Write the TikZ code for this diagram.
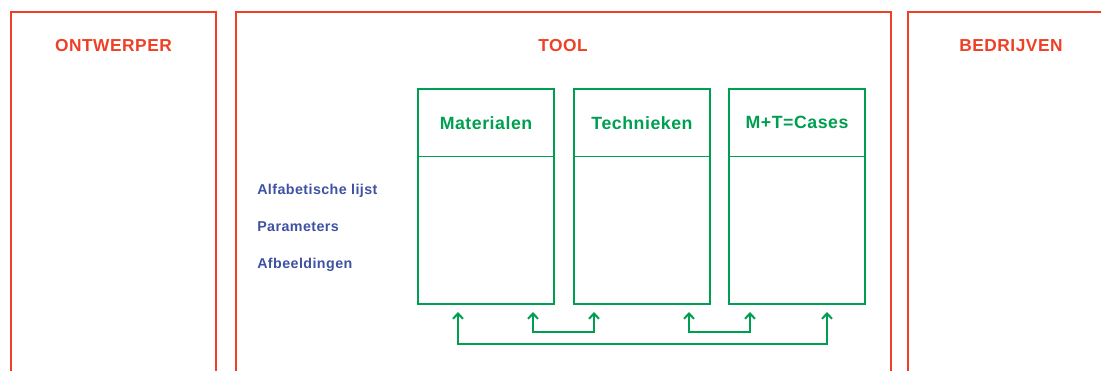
\documentclass[tikz,border=0pt]{standalone}
\usepackage{fontspec}
\setmainfont{Liberation Sans}
\newfontfamily\breedfont[LetterSpace=3]{Liberation Sans}
\usetikzlibrary{arrows.meta,positioning}
\definecolor{rood}{RGB}{238,64,38}
\definecolor{groen}{RGB}{0,158,80}
\definecolor{blauw}{RGB}{62,82,162}

\begin{document}
\begin{tikzpicture}[x=0.75pt,y=0.75pt,yscale=-1,xscale=1,
	paneel/.style={draw=rood,line width=1pt},
	titel/.style={text=rood,font=\breedfont\bfseries\fontsize{13}{15}\selectfont},
	kopvak/.style={draw=groen,line width=1pt,outer sep=0pt,inner sep=0pt,minimum width=102pt,minimum height=50.8pt,text=groen,font=\breedfont\bfseries\fontsize{13.3}{15}\selectfont},
	lijfvak/.style={draw=groen,line width=1pt,outer sep=0pt,inner sep=0pt,minimum width=102pt,minimum height=110.5pt},
	item/.style={anchor=base west,inner sep=0pt,text=blauw,font=\breedfont\bfseries\fontsize{10.7}{12}\selectfont},
	pijl/.style={draw=groen,line width=1.5pt,{Straight Barb[length=4pt,width=7.5pt]}-{Straight Barb[length=4pt,width=7.5pt]}}]
	\useasboundingbox (0,0) rectangle (1101,371);

	%panels, open at the bottom
	\draw [paneel] (11,371) -- (11,12) -- (216,12) -- (216,371);
	\draw [paneel] (236,371) -- (236,12) -- (891,12) -- (891,371);
	\draw [paneel] (908,371) -- (908,12) -- (1101,12);

	\node (ontwerper) [titel] at (113.5,46) {ONTWERPER};
	\node (tool) [titel] at (563,46) {TOOL};
	\node (bedrijven) [titel] at (1011,46) {BEDRIJVEN};

	%the three columns
	\node (materialen) [kopvak,anchor=north west] at (418,89) {Materialen};
	\node (matlijf) [lijfvak,below=0pt of materialen] {};
	\node (technieken) [kopvak,anchor=north west] at (574,89) {Technieken};
	\node (techlijf) [lijfvak,below=0pt of technieken] {};
	\node (cases) [kopvak,anchor=north west] at (729,89) {M+T=Cases};
	\node (caselijf) [lijfvak,below=0pt of cases] {};

	\node (alfabet) [item] at (257,194) {Alfabetische lijst};
	\node (parameters) [item] at (257,231) {Parameters};
	\node (afbeeldingen) [item] at (257,268) {Afbeeldingen};

	%links below the columns
	\coordinate (m1) at (458,312);
	\coordinate (m2) at (533,312);
	\coordinate (t1) at (594,312);
	\coordinate (t2) at (689,312);
	\coordinate (c1) at (750,312);
	\coordinate (c2) at (827,312);
	\draw [pijl] (m1) -- ++(0,31.5) -| (c2);
	\draw [pijl] (m2) -- ++(0,20) -| (t1);
	\draw [pijl] (t2) -- ++(0,20) -| (c1);
\end{tikzpicture}
\end{document}
